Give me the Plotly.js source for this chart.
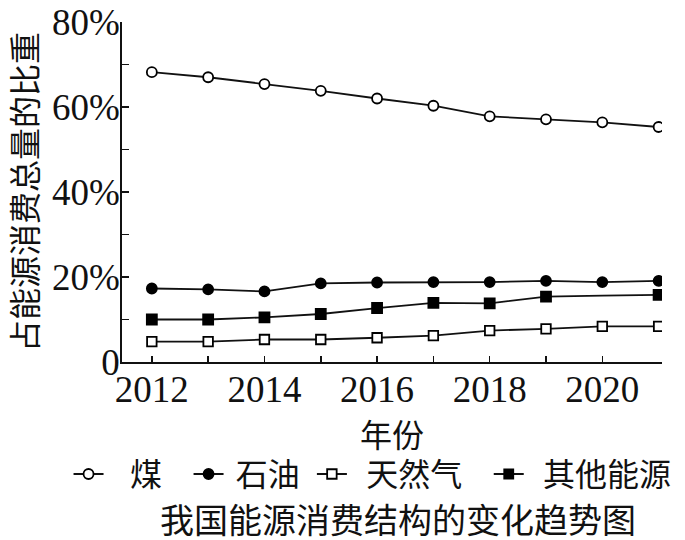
<!DOCTYPE html>
<html>
<head>
<meta charset="utf-8">
<script src="https://cdn.plot.ly/plotly-3.0.1.min.js"></script>
<style>html,body{margin:0;padding:0;background:#fff;}#chart{width:685px;height:540px;}</style>
</head>
<body>
<div id="chart"></div>
<script>
var years = [2012, 2013, 2014, 2015, 2016, 2017, 2018, 2019, 2020, 2021];
var coal = [68.2, 67.0, 65.4, 63.8, 62.0, 60.3, 57.8, 57.1, 56.4, 55.3];
var oil = [17.3, 17.1, 16.6, 18.5, 18.7, 18.8, 18.8, 19.1, 18.8, 19.1];
var gas = [4.8, 4.8, 5.3, 5.3, 5.7, 6.2, 7.4, 7.8, 8.4, 8.4];
var other = [10.0, 10.0, 10.5, 11.3, 12.7, 13.9, 13.8, 15.4, 15.6, 15.8];
var otherMarked = [1, 1, 1, 1, 1, 1, 1, 1, 0, 1];
var seriesNames = ['煤', '石油', '天然气', '其他能源'];
var xTickVals = [2012, 2013, 2014, 2015, 2016, 2017, 2018, 2019, 2020];
var xTickText = ['2012', '', '2014', '', '2016', '', '2018', '', '2020'];
var yTickVals = [0, 10, 20, 30, 40, 50, 60, 70, 80];
var yTickText = ['0', '', '20%', '', '40%', '', '60%', '', '80%'];
var chartTitle = '我国能源消费结构的变化趋势图';
var xTitle = '年份';
var yTitle = '占能源消费总量的比重';

var cjk = '"Noto Sans CJK SC", sans-serif';
var serif = '"Liberation Serif", "Times New Roman", serif';
var ink = '#111111';
var nb = '\u00a0';
function pad(n) { var s = ''; for (var i = 0; i < n; i++) s += nb; return s; }

function mk(y, name, symbol, fill, sizes) {
  return {
    x: years, y: y, name: name, type: 'scatter', mode: 'lines+markers',
    line: {color: ink, width: 1.8, dash: 'solid'},
    marker: {symbol: symbol, size: sizes || 10, color: fill, opacity: 1,
             line: {color: '#000', width: 1.8}},
    hoverinfo: 'x+y'
  };
}

var otherSizes = otherMarked.map(function (m) { return m ? 10 : 0; });

var data = [
  mk(coal, pad(3) + seriesNames[0] + pad(3), 'circle', '#ffffff'),
  mk(oil, pad(1) + seriesNames[1] + pad(1), 'circle', '#000'),
  mk(gas, pad(2) + seriesNames[2] + pad(3), 'square', '#ffffff', 9.5),
  mk(other, pad(2) + seriesNames[3], 'square', '#000', otherSizes)
];

var layout = {
  width: 685, height: 540,
  paper_bgcolor: '#fff', plot_bgcolor: '#fff',
  margin: {l: 122, r: 23, t: 22, b: 178},
  showlegend: true,
  legend: {orientation: 'h', x: -0.099, xanchor: 'left', y: -0.33, yanchor: 'middle',
           font: {family: cjk, size: 32, color: ink}, itemwidth: 30, tracegroupgap: 0,
           bgcolor: 'rgba(0,0,0,0)'},
  title: {text: chartTitle, x: 0.581, xref: 'container', xanchor: 'center',
          y: 0.035, yref: 'container', yanchor: 'middle',
          font: {family: cjk, size: 34, color: ink}},
  xaxis: {
    range: [2011.47, 2021.06], tickmode: 'array', tickvals: xTickVals, ticktext: xTickText,
    ticks: 'inside', ticklen: 6, tickwidth: 1.5, tickcolor: ink,
    showline: true, linecolor: ink, linewidth: 1.8, showgrid: false, zeroline: false,
    tickfont: {family: serif, size: 37, color: ink}, ticklabelstandoff: -6,
    title: {text: xTitle, font: {family: cjk, size: 32, color: ink}, standoff: 1}
  },
  yaxis: {
    range: [0, 80], tickmode: 'array', tickvals: yTickVals, ticktext: yTickText,
    ticks: 'inside', ticklen: 7, tickwidth: 1.5, tickcolor: ink,
    showline: true, linecolor: ink, linewidth: 1.8, showgrid: false, zeroline: false,
    tickfont: {family: serif, size: 37, color: ink}, ticklabelstandoff: -7,
    title: {text: yTitle, font: {family: cjk, size: 32, color: ink}, standoff: 15}
  }
};

Plotly.newPlot('chart', data, layout, {displayModeBar: false, staticPlot: true});
</script>
</body>
</html>
